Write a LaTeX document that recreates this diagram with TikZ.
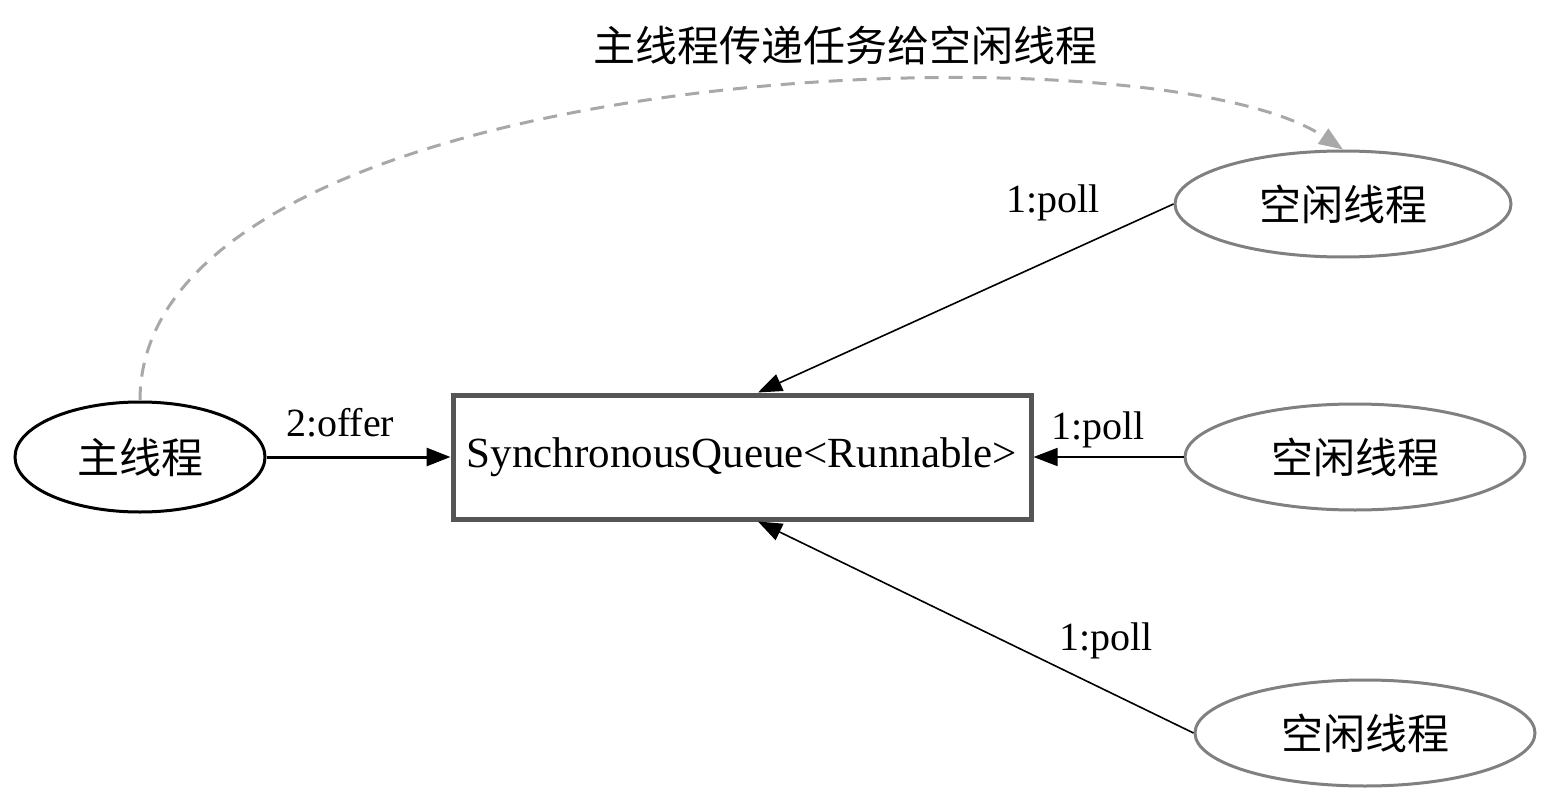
\documentclass[tikz,border=0pt]{standalone}
\usepackage{fontspec}
\setmainfont{Liberation Serif}
\newfontfamily\cjk{Noto Sans CJK SC}
\usepackage{tikz}
\usetikzlibrary{shapes, arrows.meta, positioning}
\definecolor{BoxGray}{HTML}{555555}
\definecolor{ThreadGray}{HTML}{808080}
\definecolor{DashGray}{HTML}{A8A8A8}

\begin{document}
\begin{tikzpicture}[x=0.5pt, y=-0.5pt, >={Triangle[length=12pt,width=9pt]},
  idle/.style={draw=ThreadGray, line width=1.5pt, ellipse, minimum width=170pt, minimum height=53pt, font=\cjk\fontsize{21}{25}\selectfont},
  poll/.style={->, line width=0.8pt},
  lbl/.style={font=\fontsize{20}{24}\selectfont}]
  \useasboundingbox (0,0) rectangle (1543,792);
  \node[draw, line width=1.5pt, ellipse, minimum width=125pt, minimum height=55pt, font=\cjk\fontsize{21}{25}\selectfont] (main) at (140,457) {主线程};
  \node[draw=BoxGray, line width=2.5pt, minimum width=289pt, minimum height=62pt, font=\fontsize{21.5}{25}\selectfont] (queue) at (742,457) {SynchronousQueue<Runnable>};
  \node[idle, minimum width=168pt] (idle1) at (1343,204) {空闲线程};
  \node[idle] (idle2) at (1355,457) {空闲线程};
  \node[idle] (idle3) at (1365,733) {空闲线程};
  \node[font=\cjk\fontsize{21}{25}\selectfont] (title) at (845,45) {主线程传递任务给空闲线程};

  \draw[->, line width=1.5pt] (main.east) -- node[lbl, pos=0.4, above=6pt] {2:offer} (queue.west);
  \draw[poll] (idle1.west) -- node[lbl, pos=0.29, above=15pt] {1:poll} ([xshift=8pt]queue.north);
  \draw[poll] (idle2.west) -- node[lbl, pos=0.57, above=1pt] {1:poll} (queue.east);
  \draw[poll] (idle3.west) -- node[lbl, pos=0.2, above=12pt] {1:poll} ([xshift=8pt]queue.south);
  \draw[->, DashGray, line width=1.5pt, dash pattern=on 7pt off 5pt] (main.north) .. controls (140,60) and (1150,20) .. (idle1.north);
\end{tikzpicture}
\end{document}
